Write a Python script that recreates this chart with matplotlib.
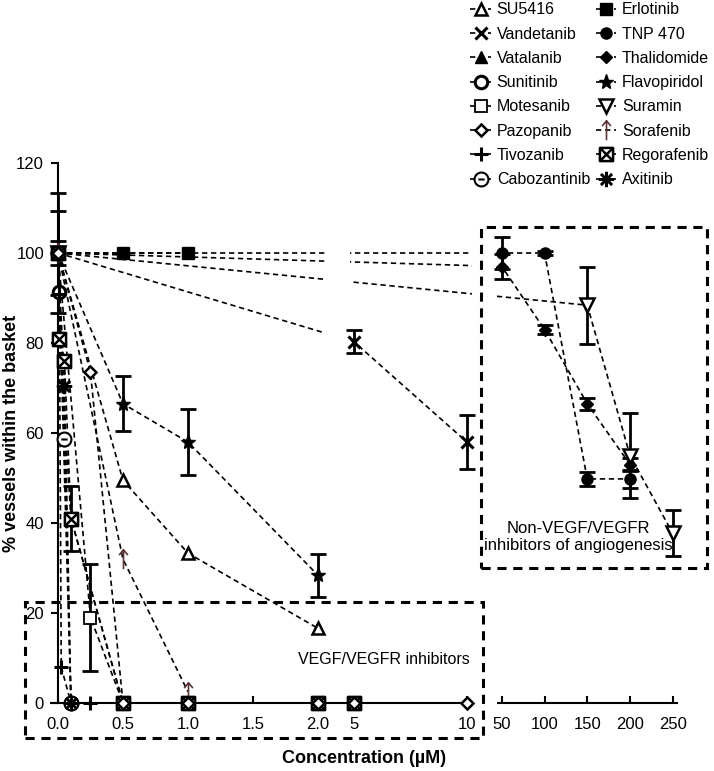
import numpy as np
import matplotlib
matplotlib.use('Agg')
import matplotlib.pyplot as plt
from matplotlib.path import Path
from matplotlib.patches import Rectangle
from matplotlib.lines import Line2D

plt.rcParams['font.family'] = ['Liberation Sans', 'DejaVu Sans']

# ---------------- data ----------------
su5416_x = [0, 0.5, 1.0, 2.0]
su5416_y = [100, 49.5, 33.3, 16.6]
su5416_e = [0, 0, 0, 0]

vandetanib_x = [0, 5, 10]
vandetanib_y = [100, 80.3, 58.0]
vandetanib_e = [0, 2.5, 6.0]

vatalanib_x = [0, 0.01, 0.1, 0.5]
vatalanib_y = [100, 82, 41, 0]
vatalanib_e = [0, 0, 0, 0]

sunitinib_x = [0, 0.01, 0.1]
sunitinib_y = [100, 91.3, 0]
sunitinib_e = [9.3, 0, 0]

motesanib_x = [0, 0.25, 0.5]
motesanib_y = [100, 19.0, 0]
motesanib_e = [0, 11.8, 0]

pazopanib_x = [0, 0.25, 0.5, 1.0, 2.0, 5, 10]
pazopanib_y = [100, 73.5, 0, 0, 0, 0, 0]
pazopanib_e = [0, 0, 0, 0, 0, 0, 0]

tivozanib_x = [0, 0.01, 0.025, 0.1, 0.25]
tivozanib_y = [100, 91, 8, 0, 0]
tivozanib_e = [13.3, 0, 0, 0, 0]

cabozantinib_x = [0, 0.05, 0.1]
cabozantinib_y = [100, 58.7, 0]
cabozantinib_e = [0, 0, 0]

erlotinib_x = [0, 0.5, 1.0]
erlotinib_y = [100, 100, 100]
erlotinib_e = [0, 0, 0]

tnp470_x = [0, 50, 100, 150, 200]
tnp470_y = [100, 100, 100, 49.8, 49.8]
tnp470_e = [0, 3.5, 0.5, 1.5, 2.0]

thalidomide_x = [0, 50, 100, 150, 200]
thalidomide_y = [100, 97, 83, 66.5, 53]
thalidomide_e = [0, 2.8, 1.0, 1.3, 1.5]

flavopiridol_x = [0, 0.5, 1.0, 2.0]
flavopiridol_y = [100, 66.5, 58.0, 28.4]
flavopiridol_e = [0, 6.1, 7.3, 4.8]

suramin_x = [0, 150, 200, 250]
suramin_y = [100, 88.4, 55, 37.7]
suramin_e = [0, 8.6, 9.5, 5.1]

sorafenib_x = [0, 0.5, 1.0]
sorafenib_y = [100, 32, 2.5]
sorafenib_e = [0, 0, 0]

regorafenib_x = [0, 0.01, 0.05, 0.1, 0.5, 1.0, 2.0, 5]
regorafenib_y = [100, 81, 76, 41, 0, 0, 0, 0]
regorafenib_e = [2.7, 0, 0, 7.3, 0, 0, 0, 0]

axitinib_x = [0, 0.05, 0.1]
axitinib_y = [100, 70.5, 0]
axitinib_e = [0, 0, 0]

tick_pos = [0, 0.5, 1.0, 1.5, 2.0, 5, 10, 50, 100, 150, 200, 250]
tick_lab = ['0.0', '0.5', '1.0', '1.5', '2.0', '5', '10', '50', '100', '150', '200', '250']

# ---------------- broken x scale ----------------
brk_x = [-1, 0, 2, 5, 10, 50, 250, 300]
brk_u = [-130, 0, 260, 296, 409, 444, 615, 657.75]

def fwd(x):
    return np.interp(x, brk_x, brk_u)

def inv(u):
    return np.interp(u, brk_u, brk_x)

# ---------------- markers ----------------
MO, LT, CP = Path.MOVETO, Path.LINETO, Path.CLOSEPOLY
sq = Path([(-1, -1), (1, -1), (1, 1), (-1, 1), (-1, -1)], [MO, LT, LT, LT, CP])
boxx = Path.make_compound_path(sq, Path([(-1, -1), (1, 1)]), Path([(-1, 1), (1, -1)]))
circ = Path.unit_circle()
ominus = Path.make_compound_path(circ, Path([(-0.45, 0), (0.45, 0)]))
arrow = Path([(0, -1), (0, 1), (-0.45, 0.45), (0, 1), (0.45, 0.45)], [MO, LT, MO, LT, LT])

series = [
    ('SU5416', su5416_x, su5416_y, su5416_e, dict(marker='^', mfc='white', ms=9, mew=1.8)),
    ('Vandetanib', vandetanib_x, vandetanib_y, vandetanib_e, dict(marker='x', ms=8, mew=2.2)),
    ('Vatalanib', vatalanib_x, vatalanib_y, vatalanib_e, dict(marker='^', mfc='black', ms=8)),
    ('Sunitinib', sunitinib_x, sunitinib_y, sunitinib_e, dict(marker='o', mfc='white', ms=9, mew=2.2)),
    ('Motesanib', motesanib_x, motesanib_y, motesanib_e, dict(marker='s', mfc='white', ms=9, mew=1.3)),
    ('Pazopanib', pazopanib_x, pazopanib_y, pazopanib_e, dict(marker='D', mfc='white', ms=6.5, mew=1.8)),
    ('Tivozanib', tivozanib_x, tivozanib_y, tivozanib_e, dict(marker='+', ms=10, mew=2.2)),
    ('Cabozantinib', cabozantinib_x, cabozantinib_y, cabozantinib_e, dict(marker=ominus, mfc='white', ms=10, mew=1.5)),
    ('Erlotinib', erlotinib_x, erlotinib_y, erlotinib_e, dict(marker='s', mfc='black', ms=8)),
    ('TNP 470', tnp470_x, tnp470_y, tnp470_e, dict(marker='o', mfc='black', ms=8)),
    ('Thalidomide', thalidomide_x, thalidomide_y, thalidomide_e, dict(marker='D', mfc='black', ms=6.5)),
    ('Flavopiridol', flavopiridol_x, flavopiridol_y, flavopiridol_e, dict(marker='*', mfc='black', ms=11)),
    ('Suramin', suramin_x, suramin_y, suramin_e, dict(marker='v', mfc='white', ms=10, mew=1.8)),
    ('Sorafenib', sorafenib_x, sorafenib_y, sorafenib_e, dict(marker=arrow, mfc='none', ms=14, mew=1.2, mec='#5a3535')),
    ('Regorafenib', regorafenib_x, regorafenib_y, regorafenib_e, dict(marker=boxx, mfc='white', ms=9.5, mew=1.8)),
    ('Axitinib', axitinib_x, axitinib_y, axitinib_e, dict(marker=(8, 2, 0), ms=11, mew=1.8)),
]
# pazopanib's open diamonds sit on top of the regorafenib boxes
marker_z = {'Pazopanib': 4.6}

W, H, DPI = 714, 771, 100
fig = plt.figure(figsize=(W / DPI, H / DPI), dpi=DPI)
ax = fig.add_axes([51.5 / W, 1 - 703 / H, (677 - 51.5) / W, (703 - 163) / H])
ax.set_xscale('function', functions=(fwd, inv))

dash = (0, (3.2, 2.2))
handles = []
for name, xs, ys, es, st in series:
    xs = np.asarray(xs, float)
    ys = np.asarray(ys, float)
    es = np.asarray(es, float)
    ax.plot(xs, ys, ls=dash, color='black', lw=1.2, zorder=2)
    m = es > 0
    if m.any():
        ax.errorbar(xs[m], ys[m], yerr=es[m], fmt='none', ecolor='black',
                    elinewidth=2.0, capsize=5.5, capthick=2.0, zorder=3, clip_on=False)
    kw = dict(mec='black')
    kw.update(st)
    ax.plot(xs, ys, ls='none', color='black', zorder=marker_z.get(name, 4), clip_on=False, **kw)
    handles.append(Line2D([], [], ls=dash, color='black', lw=1.2, **kw))

ax.set_xlim(-0.05, 255)
ax.set_ylim(0, 120)

# axis breaks (masks over the connecting lines)
ax.axvspan(2.58, 4.67, ymin=0.004, ymax=1, color='white', zorder=2.3, lw=0)
ax.axvspan(15.7, 44.3, ymin=-0.01, ymax=1, color='white', zorder=2.7, lw=0, clip_on=False)

for s in ['top', 'right']:
    ax.spines[s].set_visible(False)
ax.spines['left'].set_position(('data', 0))
ax.spines['left'].set_linewidth(1.5)
ax.spines['bottom'].set_linewidth(1.5)

ax.set_xticks(tick_pos)
ax.set_xticklabels(tick_lab)
ax.set_yticks([0, 20, 40, 60, 80, 100, 120])
ax.tick_params(axis='x', direction='in', length=5, width=1.5, labelsize=12, pad=10)
ax.tick_params(axis='y', direction='out', length=5, width=1.5, labelsize=12, pad=5)

ax.set_xlabel('Concentration (\u00b5M)', fontsize=13, fontweight='bold', labelpad=13)
ax.set_ylabel('% vessels within the basket', fontsize=13, fontweight='bold')
ax.yaxis.set_label_coords(-0.050, 0.5)

# dashed group boxes
box_kw = dict(fill=False, ls=(0, (3, 2.2)), lw=2.2, ec='black', transform=fig.transFigure, zorder=5)
fig.add_artist(Rectangle((25 / W, 1 - 738 / H), (483 - 25) / W, (738 - 602) / H, **box_kw))
fig.add_artist(Rectangle((481 / W, 1 - 568 / H), (707 - 481) / W, (568 - 227) / H, **box_kw))

fig.text(470 / W, 1 - 660 / H, 'VEGF/VEGFR inhibitors', ha='right', va='center', fontsize=11.5)
fig.text(578 / W, 1 - 537 / H, 'Non-VEGF/VEGFR\ninhibitors of angiogenesis', ha='center', va='center',
         fontsize=12, linespacing=1.15)

fig.legend(handles=handles, labels=[s[0] for s in series], ncol=2, loc='upper left',
           bbox_to_anchor=(468 / W, 1.0), frameon=False, fontsize=11.5,
           handlelength=1.3, handletextpad=0.35, columnspacing=0.35, labelspacing=0.58,
           borderpad=0.15, borderaxespad=0.0)

fig.savefig('out.png', dpi=DPI)
